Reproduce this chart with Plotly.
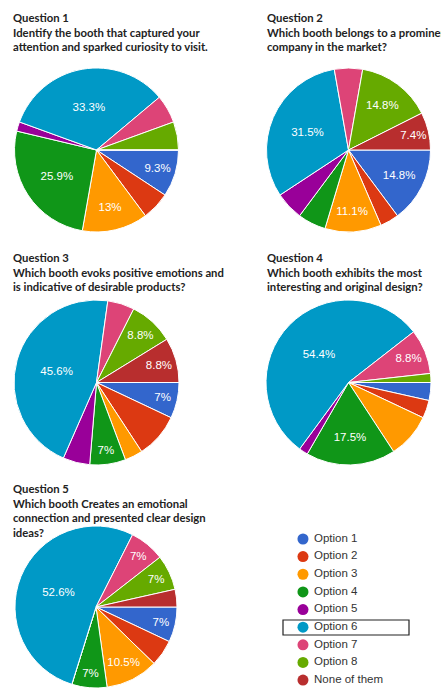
import plotly.graph_objects as go

W, H = 441, 688

options = ["Option 1", "Option 2", "Option 3", "Option 4", "Option 5",
           "Option 6", "Option 7", "Option 8", "None of them"]
colors = ["#3366cc", "#dc3912", "#ff9900", "#109618", "#990099",
          "#0099c6", "#dd4477", "#66aa00", "#b82e2e"]

# number of answers per option (n=54 for Q1/Q2, n=57 for Q3-Q5)
q1_counts = [5, 3, 7, 14, 1, 18, 3, 3, 0]
q2_counts = [8, 2, 6, 3, 3, 17, 3, 8, 4]
q3_counts = [4, 5, 2, 4, 3, 26, 3, 5, 5]
q4_counts = [2, 2, 5, 10, 1, 31, 5, 1, 0]
q5_counts = [4, 3, 6, 4, 0, 30, 4, 4, 2]

# slices that carry a percentage label in the original
q1_labelled = [0, 2, 3, 5]
q2_labelled = [0, 2, 5, 7, 8]
q3_labelled = [0, 3, 5, 7, 8]
q4_labelled = [3, 5, 6]
q5_labelled = [0, 2, 3, 5, 6, 7]

titles = [
    "Question 1<br>Identify the booth that captured your<br>attention and sparked curiosity to visit.",
    "Question 2<br>Which booth belongs to a prominent<br>company in the market?",
    "Question 3<br>Which booth evoks positive emotions and<br>is indicative of desirable products?",
    "Question 4<br>Which booth exhibits the most<br>interesting and original design?",
    "Question 5<br>Which booth Creates an emotional<br>connection and presented clear design<br>ideas?",
]


def px_x(a, b):
    return [a / W, b / W]


def px_y(top, bottom):
    return [max(0, (H - bottom) / H), (H - top) / H]


def pct_text(counts, shown):
    total = sum(counts)
    out = []
    for i, c in enumerate(counts):
        if i in shown:
            s = f"{100 * c / total:.1f}".rstrip("0").rstrip(".")
            out.append(s + "%")
        else:
            out.append("")
    return out


pies = [
    (q1_counts, q1_labelled, px_x(14, 179), px_y(68, 232)),
    (q2_counts, q2_labelled, px_x(266, 431), px_y(68, 232)),
    (q3_counts, q3_labelled, px_x(14, 179), px_y(300, 465)),
    (q4_counts, q4_labelled, px_x(266, 431), px_y(300, 465)),
    (q5_counts, q5_labelled, px_x(15, 177), px_y(526, 688)),
]

fig = go.Figure()

for counts, shown, dx, dy in pies:
    fig.add_trace(go.Pie(
        labels=options,
        values=counts,
        text=pct_text(counts, shown),
        textinfo="text",
        texttemplate="%{text}",
        textposition="inside",
        insidetextorientation="horizontal",
        textfont=dict(family="Liberation Sans, Arial", size=11.5, color="white"),
        marker=dict(colors=colors, line=dict(color="white", width=1)),
        sort=False,
        direction="clockwise",
        rotation=90,
        domain=dict(x=dx, y=dy),
        showlegend=False,
        hoverinfo="label+percent",
    ))

# legend drawn as a small categorical scatter so spacing matches the original
fig.add_trace(go.Scatter(
    x=[0] * len(options),
    y=options,
    mode="markers+text",
    marker=dict(color=colors, size=11, symbol="circle"),
    text=[" " + o for o in options],
    textposition="middle right",
    textfont=dict(family="Liberation Sans, Arial", size=11.5, color="#333333"),
    cliponaxis=False,
    showlegend=False,
    hoverinfo="skip",
))

title_pos = [(11, 9), (265, 9), (11, 249), (265, 249), (11, 480)]
for (tx, ty), t in zip(title_pos, titles):
    fig.add_annotation(
        x=tx / W, y=(H - ty) / H, xref="paper", yref="paper",
        xanchor="left", yanchor="top", align="left", showarrow=False,
        text=t, font=dict(family="Lato", size=11.3, color="#222222", weight="bold"),
    )

# highlight box around "Option 6"
fig.add_shape(type="rect", xref="paper", yref="paper",
              x0=283 / W, x1=409 / W, y0=(H - 635) / H, y1=(H - 620) / H,
              line=dict(color="#222222", width=1.2))

fig.update_layout(
    width=W, height=H,
    margin=dict(l=0, r=0, t=0, b=0),
    paper_bgcolor="white", plot_bgcolor="white",
    xaxis=dict(domain=[0.6, 1], range=[-0.278, 1], visible=False, fixedrange=True),
    yaxis=dict(domain=[0, 0.2294], range=[8.45, -0.5], visible=False,
               type="category", fixedrange=True),
)

fig.write_html("out.html", config=dict(displayModeBar=False),
               post_script="document.body.style.margin='0';")
